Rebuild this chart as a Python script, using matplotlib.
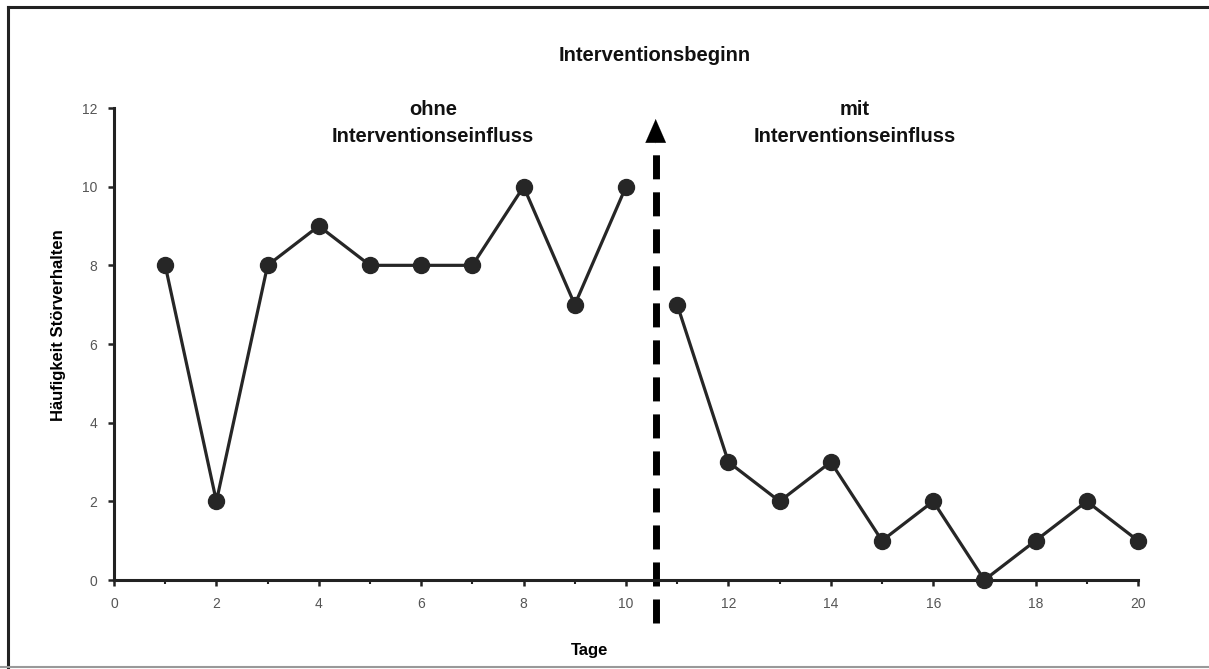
import matplotlib.pyplot as plt
from matplotlib.lines import Line2D

plt.rcParams['font.family'] = ['Liberation Sans', 'DejaVu Sans']

tage_ohne = [1, 2, 3, 4, 5, 6, 7, 8, 9, 10]
werte_ohne = [8, 2, 8, 9, 8, 8, 8, 10, 7, 10]
tage_mit = [11, 12, 13, 14, 15, 16, 17, 18, 19, 20]
werte_mit = [7, 3, 2, 3, 1, 2, 0, 1, 2, 1]
interventionsbeginn = 10.58

W, H = 1209, 669
fig = plt.figure(figsize=(W / 100, H / 100), dpi=100)
ax = fig.add_axes([114 / W, 1 - 580 / H, (1138 - 114) / W, (580 - 108) / H])

# figure frame
fig.add_artist(Line2D([8 / W, 8 / W], [1 - 7 / H, 0], transform=fig.transFigure, color='#222222', lw=2.2))
fig.add_artist(Line2D([8 / W, 1], [1 - 7 / H, 1 - 7 / H], transform=fig.transFigure, color='#222222', lw=2.2))
fig.add_artist(Line2D([0, 1], [1 - 667 / H, 1 - 667 / H], transform=fig.transFigure, color='#999999', lw=1.5))

line_kw = dict(color='#262626', lw=2.3, marker='o', markersize=11.5, clip_on=False, zorder=3)
ax.plot(tage_ohne, werte_ohne, **line_kw)
ax.plot(tage_mit, werte_mit, **line_kw)

ax.set_xlim(0, 20)
ax.set_ylim(0, 12)
ax.set_xticks(range(0, 21, 2))
ax.set_xticks(range(1, 21, 2), minor=True)
ax.set_yticks(range(0, 13, 2))
for s in ['top', 'right']:
    ax.spines[s].set_visible(False)
for s in ['left', 'bottom']:
    ax.spines[s].set_linewidth(2.2)
    ax.spines[s].set_color('#222222')
ax.tick_params(axis='both', which='major', length=4, width=1.8, color='#222222',
               labelsize=10, labelcolor='#555555', pad=8)
ax.tick_params(axis='x', which='minor', length=3, width=1.5, color='#222222')

ax.set_ylabel('Häufigkeit Störverhalten', fontsize=12, fontweight='bold')
ax.yaxis.set_label_coords(-48 / 1024, 0.54)
ax.set_xlabel('Tage', fontsize=12, fontweight='bold')
ax.xaxis.set_label_coords(9.28 / 20, -0.133)

# dashed intervention line with arrow head
ax.plot([interventionsbeginn, interventionsbeginn], [-1.1, 10.95], color='black', lw=5,
        dashes=[3.46, 1.87], clip_on=False, solid_capstyle='butt', zorder=2)
ax.annotate('', xy=(interventionsbeginn, 11.72), xytext=(interventionsbeginn, 11.1),
            arrowprops=dict(arrowstyle='-|>,head_length=0.85,head_width=0.37',
                            mutation_scale=20, color='black', lw=0.1,
                            shrinkA=0, shrinkB=0),
            annotation_clip=False)

txt_kw = dict(fontsize=14.5, fontweight='bold', ha='center', va='center', color='#111111')
ax.text(10.57, 13.33, 'Interventionsbeginn', **txt_kw)
ax.text(6.23, 11.62, 'ohne\nInterventionseinfluss', linespacing=1.5, **txt_kw)
ax.text(14.47, 11.62, 'mit\nInterventionseinfluss', linespacing=1.5, **txt_kw)

fig.savefig('out.png', dpi=100, facecolor='white')
